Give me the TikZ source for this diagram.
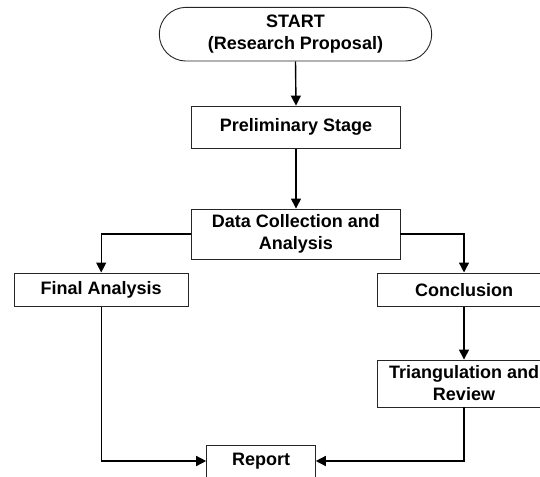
\documentclass[tikz,border=0pt]{standalone}
\usepackage{fontspec}
\setmainfont{Liberation Sans}
\usetikzlibrary{arrows.meta}
\begin{document}
\begin{tikzpicture}[x=1pt,y=-1pt,
  box/.style={draw=black!85, line width=0.9pt, fill=white, inner sep=0pt, align=center,
    font=\fontsize{18}{22}\selectfont\bfseries},
  arr/.style={line width=1.4pt, -{Triangle[length=10pt,width=10pt]}},
  ln/.style={line width=1.4pt}]
\useasboundingbox (0,0) rectangle (540,476);
\clip (0,0) rectangle (540,476);
\node[box, rounded corners=26.8pt, minimum width=272.4pt, minimum height=53.7pt] (start) at (295.5,34.2) {START\\(Research Proposal)};
\node[box, minimum width=208.3pt, minimum height=42.3pt] (prelim) at (296,127.2) {Preliminary Stage};
\node[box, minimum width=208.3pt, minimum height=50pt] (dc) at (295.8,234) {Data Collection and\\Analysis};
\node[box, minimum width=174.3pt, minimum height=33.7pt] (final) at (101.2,289.8) {Final Analysis};
\node[box, minimum width=173.4pt, minimum height=33.7pt] (concl) at (464,289.8) {Conclusion};
\node[box, minimum width=173.4pt, minimum height=47pt] (tri) at (464,383.5) {Triangulation and\\Review};
\node[box, minimum width=108.7pt, minimum height=32pt] (report) at (261,461) {Report};
\draw[arr] (start.south) -- (prelim.north);
\draw[arr] (prelim.south) -- (prelim.south |- dc.north);
\draw[arr] (dc.west) -| (final.north);
\draw[arr] (dc.east) -| (concl.north);
\draw[arr] (concl.south) -- (tri.north);
\draw[arr] (final.south) |- (report.west);
\draw[arr] (tri.south) |- (report.east);
\end{tikzpicture}
\end{document}
